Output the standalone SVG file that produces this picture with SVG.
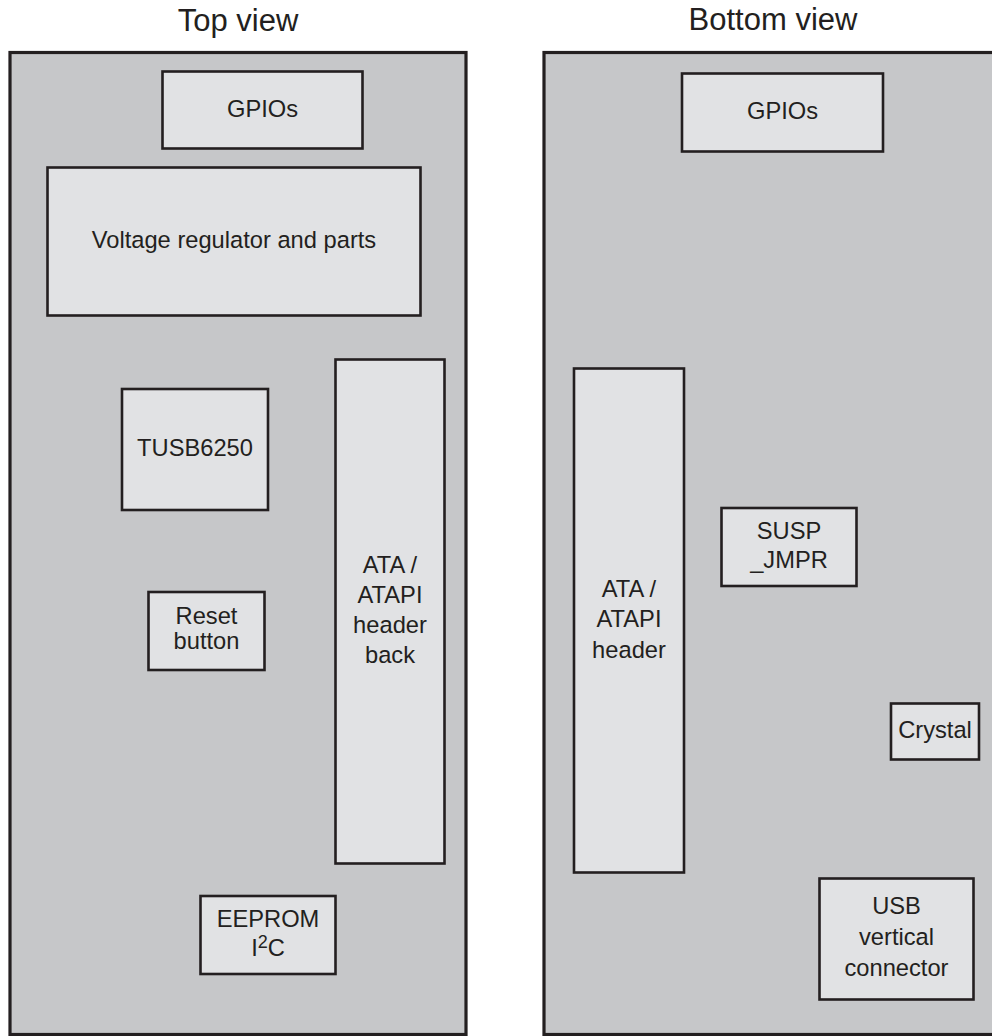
<svg xmlns="http://www.w3.org/2000/svg" width="992" height="1036" viewBox="0 0 992 1036">
<style>
.board{fill:#c6c7c9;stroke:#231f20;stroke-width:3.2}
.box{fill:#e1e2e4;stroke:#231f20;stroke-width:2.6}
text{font-family:"Liberation Sans",Arial,sans-serif;fill:#231f20;text-anchor:middle}
.t{font-size:23.7px}
.title{font-size:31px}
</style>
<rect width="992" height="1036" fill="#ffffff"/>
<text class="title" x="238" y="31">Top view</text>
<text class="title" x="773" y="30">Bottom view</text>
<g id="top-board"><rect class="board" x="10" y="52.5" width="456" height="982"/></g>
<g id="bottom-board"><rect class="board" x="544" y="52.5" width="460" height="982"/></g>
<g id="top-gpios"><rect class="box" x="162.5" y="71.5" width="200" height="77"/><text class="t" x="262.5" y="117">GPIOs</text></g>
<g id="voltage-regulator"><rect class="box" x="47.5" y="167.5" width="373" height="148"/><text class="t" x="234" y="248">Voltage regulator and parts</text></g>
<g id="tusb6250"><rect class="box" x="122" y="389" width="146" height="121"/><text class="t" x="195" y="456">TUSB6250</text></g>
<g id="reset-button"><rect class="box" x="148.5" y="592" width="116" height="78"/><text class="t" x="206.5" y="624">Reset</text><text class="t" x="206.5" y="649">button</text></g>
<g id="ata-back"><rect class="box" x="335.5" y="359.5" width="109" height="504"/><text class="t" x="390" y="573">ATA /</text><text class="t" x="390" y="603">ATAPI</text><text class="t" x="390" y="633">header</text><text class="t" x="390" y="663">back</text></g>
<g id="eeprom"><rect class="box" x="200.5" y="896" width="135" height="78"/><text class="t" x="268" y="927">EEPROM</text><text class="t" x="268" y="956">I<tspan font-size="18" dy="-8">2</tspan><tspan dy="8">C</tspan></text></g>
<g id="bottom-gpios"><rect class="box" x="682" y="73.5" width="201" height="78"/><text class="t" x="782.5" y="119">GPIOs</text></g>
<g id="ata-header"><rect class="box" x="574" y="368.5" width="110" height="504"/><text class="t" x="629" y="597">ATA /</text><text class="t" x="629" y="627">ATAPI</text><text class="t" x="629" y="658">header</text></g>
<g id="susp-jmpr"><rect class="box" x="721.5" y="508" width="135" height="78"/><text class="t" x="789" y="539">SUSP</text><text class="t" x="789" y="568">_JMPR</text></g>
<g id="crystal"><rect class="box" x="891" y="703.5" width="88" height="56"/><text class="t" x="935" y="738">Crystal</text></g>
<g id="usb-connector"><rect class="box" x="819.5" y="878.5" width="154" height="121"/><text class="t" x="896.5" y="914">USB</text><text class="t" x="896.5" y="945">vertical</text><text class="t" x="896.5" y="976">connector</text></g>
<g id="connectors"></g>
</svg>
